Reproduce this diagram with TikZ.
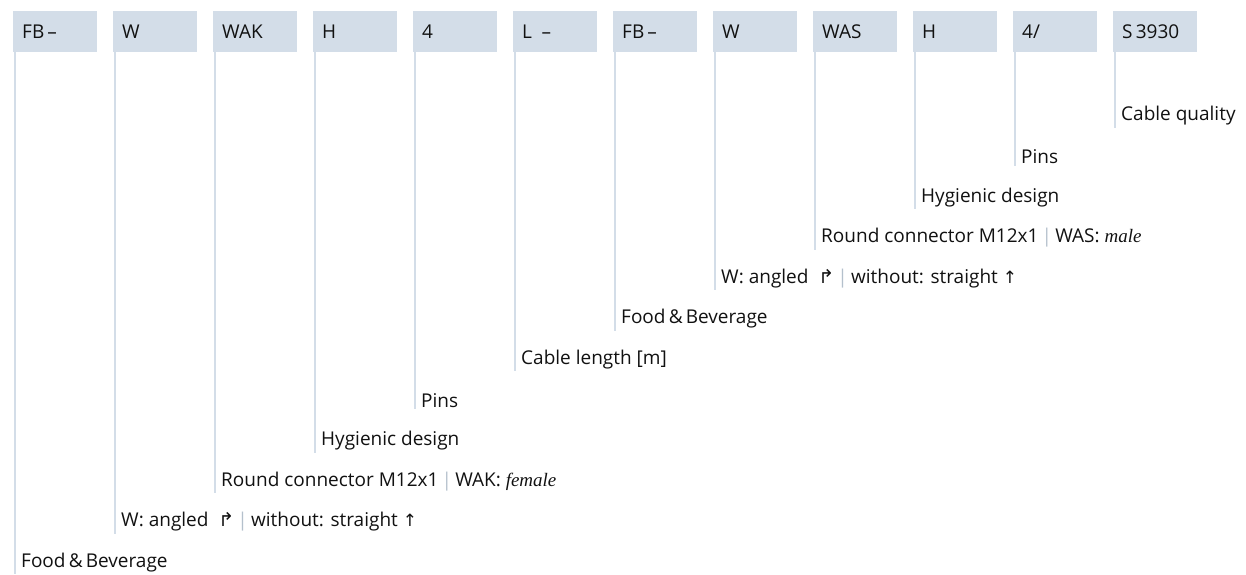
\documentclass[tikz,border=0pt]{standalone}
\usepackage{fontspec}
\setmainfont{Open Sans}
\newfontfamily\symfont{DejaVu Sans}
\newfontfamily\serifit{Liberation Serif}
\definecolor{boxfill}{HTML}{D3DDE8}
\definecolor{leadcol}{HTML}{D3DDE8}
\definecolor{txt}{HTML}{111111}
\definecolor{sepcol}{HTML}{B4C0CC}
\newcommand{\sepbar}{\,{\color{sepcol}|}\,}
\newcommand{\angarrow}{{\symfont\fontsize{19}{21}\selectfont ↱}}
\newcommand{\uparr}{{\symfont\fontsize{17}{19}\selectfont ↑}}
\newcommand{\gend}[1]{{\serifit\itshape\fontsize{19}{21}\selectfont #1}}
\begin{document}
\begin{tikzpicture}[x=1pt,y=-1pt,
  codebox/.style={fill=boxfill, minimum height=41pt, anchor=north west,
    inner xsep=9pt, inner ysep=0pt, text width=66pt, align=left,
    font=\fontsize{19}{22}\selectfont, text=txt},
  lbl/.style={anchor=west, inner xsep=0pt, inner ysep=2pt,
    font=\fontsize{19}{22}\selectfont, text=txt},
  leader/.style={draw=leadcol, line width=2.2pt}]
\useasboundingbox (0,0) rectangle (1246,574);
\foreach \i/\t in {0/{FB\,–},1/W,2/WAK,3/H,4/4,5/{L\enspace–},6/{FB\,–},7/W,8/WAS,9/H,10/{4/},11/{S\,3930}}{
  \node[codebox] (b\i) at ({13+100*\i},11) {\strut\raisebox{-2pt}{\t}};
}
\foreach \i/\t in {
  11/{Cable quality},
  10/{Pins},
  9/{Hygienic design},
  8/{Round connector M12x1\sepbar WAS: \gend{male}},
  7/{W: angled~~\angarrow\sepbar without: straight \uparr},
  6/{Food\,\&\,Beverage},
  5/{Cable length [m]},
  4/{Pins},
  3/{Hygienic design},
  2/{Round connector M12x1\sepbar WAK: \gend{female}},
  1/{W: angled~~\angarrow\sepbar without: straight \uparr},
  0/{Food\,\&\,Beverage}}{
  \node[lbl] (l\i) at ({21+100*\i},{116+(11-\i)*40.6}) {\t};
  \draw[leader] ([xshift=2pt]b\i.south west) -- ([xshift=2pt]b\i.south west |- l\i.south);
}
\end{tikzpicture}
\end{document}
